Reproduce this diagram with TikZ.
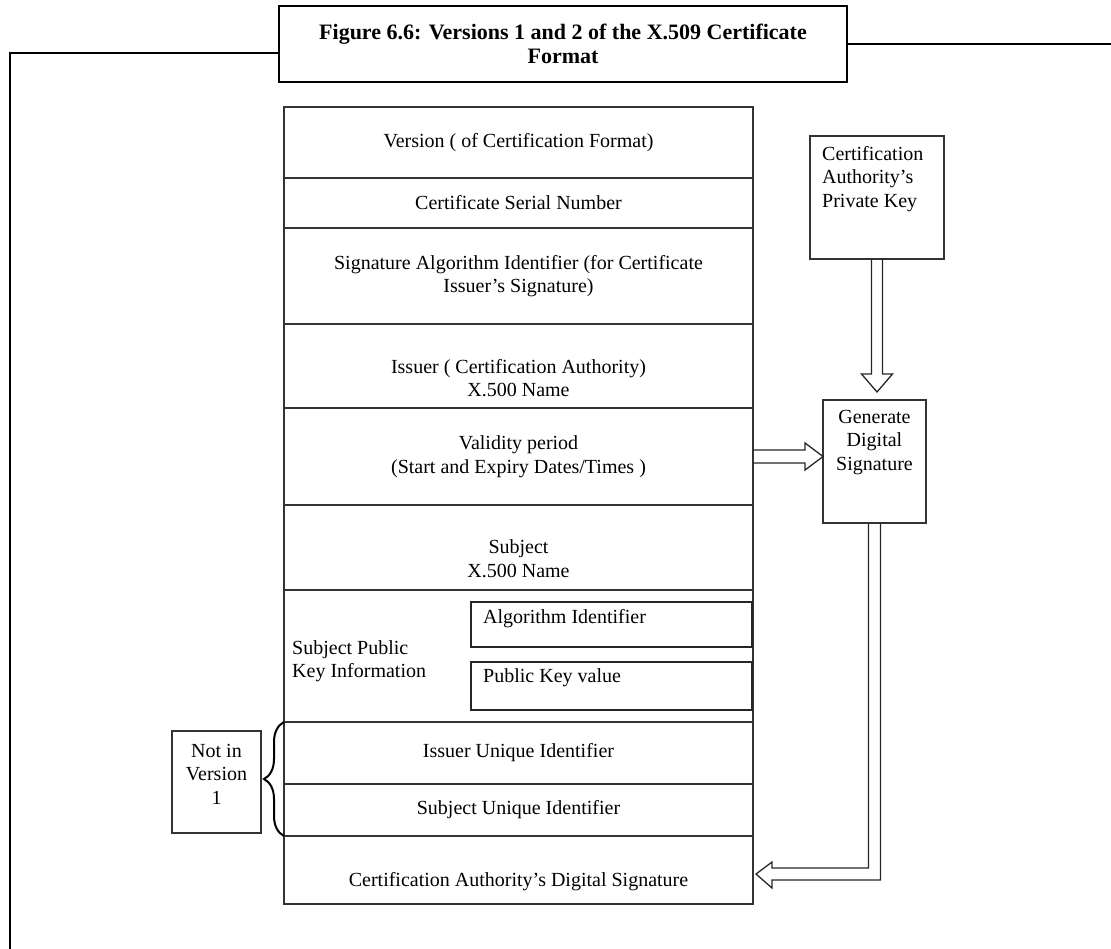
\documentclass[tikz,border=0pt]{standalone}
\usepackage{fontspec}
\setmainfont{Liberation Serif}
\usetikzlibrary{calc,positioning,decorations.pathreplacing}
\tikzset{%
	rowbox/.style   = {draw=black!80, line width=1.3pt, rectangle, minimum width=469pt, inner sep=0pt, outer sep=0pt, align=center}, % certificate field
	inbox/.style    = {draw=black!85, line width=1.5pt, rectangle, minimum width=281pt, inner sep=0pt, outer sep=0pt}, % sub field
	sidebox/.style  = {draw=black!80, line width=1.3pt, rectangle, inner sep=0pt, outer sep=0pt},
	titlebox/.style = {draw, line width=2.2pt, rectangle, inner sep=0pt, outer sep=0pt, align=center},
	txt/.style      = {inner sep=0pt, align=left},
	hollow/.style   = {draw=black!85, line width=1.3pt, line join=miter}, % open block arrow
	frame/.style    = {draw, line width=2.2pt},
}
\begin{document}
\begin{tikzpicture}[x=1pt, y=-1pt, font=\fontsize{20}{23.5}\selectfont]
		\useasboundingbox (0,0) rectangle (1111,949);
		% title and frame
		\node[titlebox, minimum width=568pt, minimum height=76pt, anchor=north west, font=\bfseries\fontsize{22}{23.5}\selectfont] (title) at (279,6) {Figure 6.6: Versions 1 and 2 of the X.509 Certificate\\Format};
		\coordinate (frameBL) at (10,949);
		\coordinate (frameTR) at (1111,44);
		\draw[frame] ([yshift=-9pt]title.west) -| (frameBL);
		\draw[frame] (title.east) -- (frameTR);
		% certificate fields
		\node[rowbox, minimum height=71pt, anchor=north west] (ver) at (284,107) {Version ( of Certification Format)};
		\node[rowbox, minimum height=50pt, below=0pt of ver] (ser) {Certificate Serial Number};
		\node[rowbox, minimum height=96pt, below=0pt of ser] (sig) {Signature Algorithm Identifier (for Certificate\\Issuer’s Signature)};
		\node[rowbox, minimum height=84pt, below=0pt of sig] (iss) {};
		\node[rowbox, minimum height=97pt, below=0pt of iss] (val) {Validity period\\(Start and Expiry Dates/Times )};
		\node[rowbox, minimum height=85pt, below=0pt of val] (sub) {};
		\node[rowbox, minimum height=132pt, below=0pt of sub] (spki) {};
		\node[rowbox, minimum height=62pt, below=0pt of spki] (iuid) {Issuer Unique Identifier};
		\node[rowbox, minimum height=52pt, below=0pt of iuid] (suid) {Subject Unique Identifier};
		\node[rowbox, minimum height=68pt, below=0pt of suid] (cads) {};
		\node[txt, align=center] at ([yshift=-12pt]iss.center) {Issuer ( Certification Authority)\\X.500 Name};
		\node[txt, align=center] at ([yshift=-11pt]sub.center) {Subject\\X.500 Name};
		\node[txt] at ([yshift=-12pt]cads.center) {Certification Authority’s Digital Signature};
		% public key information
		\node[txt, anchor=west] at ([xshift=8pt,yshift=-5pt]spki.west) {Subject Public\\Key Information};
		\node[inbox, minimum height=45pt, anchor=north west] (alg) at (471,602) {};
		\node[inbox, minimum height=48pt, below=15pt of alg] (pkv) {};
		\node[txt, anchor=west] at ([xshift=12pt,yshift=6pt]alg.west) {Algorithm Identifier};
		\node[txt, anchor=west] at ([xshift=12pt,yshift=8pt]pkv.west) {Public Key value};
		% signing side
		\node[sidebox, minimum width=134pt, minimum height=123pt, anchor=north west] (key) at (810,136) {};
		\node[txt, anchor=north west] at ([xshift=12pt,yshift=-10pt]key.north west) {Certification\\Authority’s\\Private Key};
		\node[sidebox, minimum width=103pt, minimum height=123pt, anchor=north west] (gen) at (823,400) {};
		\node[txt, align=center, anchor=north] at ([yshift=-10pt]gen.north) {Generate\\Digital\\Signature};
		% version note
		\node[sidebox, minimum width=89pt, minimum height=102pt, anchor=north west] (nv) at (172,731) {};
		\node[txt, align=center] at ([yshift=8pt]nv.center) {Not in\\Version\\1};
		\draw[line width=2pt, decorate, decoration={brace, amplitude=20pt}] (suid.south west) -- (iuid.north west);
		% arrows
		\draw[hollow] ($(key.south)+(-5.5,0)$) -- ($(key.south |- gen.north)+(-5.5,-26)$) -- ++(-10,0) -- ($(key.south |- gen.north)+(0,-8)$) -- ($(key.south |- gen.north)+(15.5,-26)$) -- ++(-10,0) -- ($(key.south)+(5.5,0)$);
		\draw[hollow] ($(val.east)+(0,-6.5)$) -- ($(val.east -| gen.west)+(-18,-6.5)$) -- ++(0,-7) -- (val.east -| gen.west) -- ($(val.east -| gen.west)+(-18,13.5)$) -- ++(0,-7) -- ($(val.east)+(0,6.5)$);
		\coordinate (turn) at ($(gen.south |- cads.east)+(0,4)$);
		\coordinate (tip) at ($(cads.east)+(3,4)$);
		\draw[hollow] ($(gen.south)+(-6,0)$) -- ($(turn)+(-6,-6)$) -- ($(tip)+(16,-6)$) -- ++(0,-6) -- (tip) -- ($(tip)+(16,14)$) -- ++(0,-8) -- ($(turn)+(6,6)$) -- ($(gen.south)+(6,0)$);
\end{tikzpicture}
\end{document}
